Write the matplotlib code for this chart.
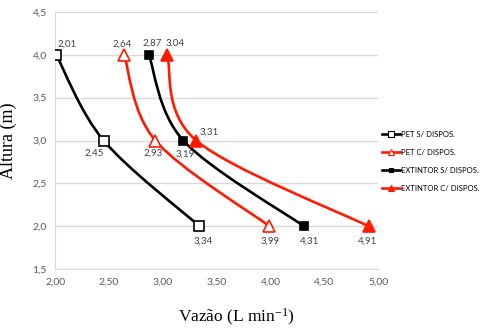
import numpy as np
import matplotlib
matplotlib.use("Agg")
import matplotlib.pyplot as plt
from matplotlib.path import Path
from matplotlib.patches import PathPatch
from matplotlib.lines import Line2D
from matplotlib.ticker import FuncFormatter, MultipleLocator
from matplotlib import font_manager

plt.rcParams["mathtext.default"] = "regular"

altura = [4.0, 3.0, 2.0]
pet_sem = [2.01, 2.45, 3.34]
pet_com = [2.64, 2.93, 3.99]
ext_sem = [2.87, 3.19, 4.31]
ext_com = [3.04, 3.31, 4.91]

names = ["PET S/ DISPOS.", "PET C/ DISPOS.", "EXTINTOR S/ DISPOS.", "EXTINTOR C/ DISPOS."]
series = [pet_sem, pet_com, ext_sem, ext_com]
colors = ["black", "#ff1a00", "black", "#ff1a00"]
markers = ["s", "^", "s", "^"]
msizes = [7.5, 8, 5.5, 9]
faces = ["white", "white", "black", "#ff1a00"]

# label offsets (px) for each point, per series
offsets = [
    [(11, 11), (-9, -13), (4, -15)],
    [(-2, 11), (-2, -13), (1, -15)],
    [(3, 12), (2, -14), (6, -15)],
    [(8, 12), (13, 8), (-1, -15)],
]

installed = {f.name for f in font_manager.fontManager.ttflist}
leg_family = "Liberation Sans Narrow" if "Liberation Sans Narrow" in installed else "Lato"
leg_size = 6.5 if leg_family != "Lato" else 5.5

fig = plt.figure(figsize=(4.97, 3.31), dpi=100)
ax = fig.add_axes([0.111, 0.187, 0.65, 0.777])
ax.set_xlim(2.0, 5.0)
ax.set_ylim(1.5, 4.5)
ax.yaxis.set_major_locator(MultipleLocator(0.5))
ax.xaxis.set_major_locator(MultipleLocator(0.5))
ax.yaxis.set_major_formatter(FuncFormatter(lambda v, p: f"{v:.1f}".replace(".", ",")))
ax.xaxis.set_major_formatter(FuncFormatter(lambda v, p: f"{v:.2f}".replace(".", ",")))
ax.grid(axis="y", color="#d9d9d9", linewidth=1)
ax.set_axisbelow(True)
for s in ["top", "right"]:
    ax.spines[s].set_visible(False)
for s in ["left", "bottom"]:
    ax.spines[s].set_color("#d9d9d9")
ax.tick_params(length=0, labelsize=7.5, labelcolor="#595959", pad=6)
for t in ax.get_xticklabels() + ax.get_yticklabels():
    t.set_fontfamily("Lato")


def smooth_path(xs, ys):
    # Catmull-Rom style bezier through the points, built in pixel space
    pts = ax.transData.transform(np.column_stack([xs, ys]))
    n = len(pts)
    verts = [pts[0]]
    codes = [Path.MOVETO]
    for i in range(n - 1):
        p0 = pts[max(i - 1, 0)]
        p1 = pts[i]
        p2 = pts[i + 1]
        p3 = pts[min(i + 2, n - 1)]
        c1 = p1 + (p2 - p0) / 6.0
        c2 = p2 - (p3 - p1) / 6.0
        verts += [c1, c2, p2]
        codes += [Path.CURVE4] * 3
    verts = ax.transData.inverted().transform(np.array(verts))
    return Path(verts, codes)


handles = []
for xs, name, c, m, ms, fc, offs in zip(series, names, colors, markers, msizes, faces, offsets):
    ax.add_patch(PathPatch(smooth_path(xs, altura), facecolor="none", edgecolor=c,
                           linewidth=1.9, zorder=3))
    ax.plot(xs, altura, linestyle="none", marker=m, markersize=ms, markerfacecolor=fc,
            markeredgecolor=c, markeredgewidth=1.2, zorder=4)
    for x, y, (dx, dy) in zip(xs, altura, offs):
        ax.annotate(f"{x:.2f}".replace(".", ","), (x, y), xytext=(dx, dy),
                    textcoords="offset pixels", ha="center", va="center",
                    fontsize=7, color="#404040", family="Lato")
    handles.append(Line2D([], [], color=c, linewidth=1.9, marker=m, markersize=ms * 0.5,
                          markerfacecolor=fc, markeredgecolor=c, markeredgewidth=0.8))

ax.set_ylabel("Altura (m)", family="Liberation Serif", fontsize=13)
ax.yaxis.set_label_coords(-0.118, 0.5)
ax.set_xlabel("Vazão (L min$^{-1}$)", family="Liberation Serif", fontsize=12.5)
ax.xaxis.set_label_coords(0.56, -0.145)

fig.legend(handles, names, loc="center left", bbox_to_anchor=(0.755, 0.512),
           frameon=False, handlelength=2.4, handletextpad=0.1,
           labelspacing=1.45, prop={"family": leg_family, "size": leg_size})

fig.savefig("out.png", dpi=100)
